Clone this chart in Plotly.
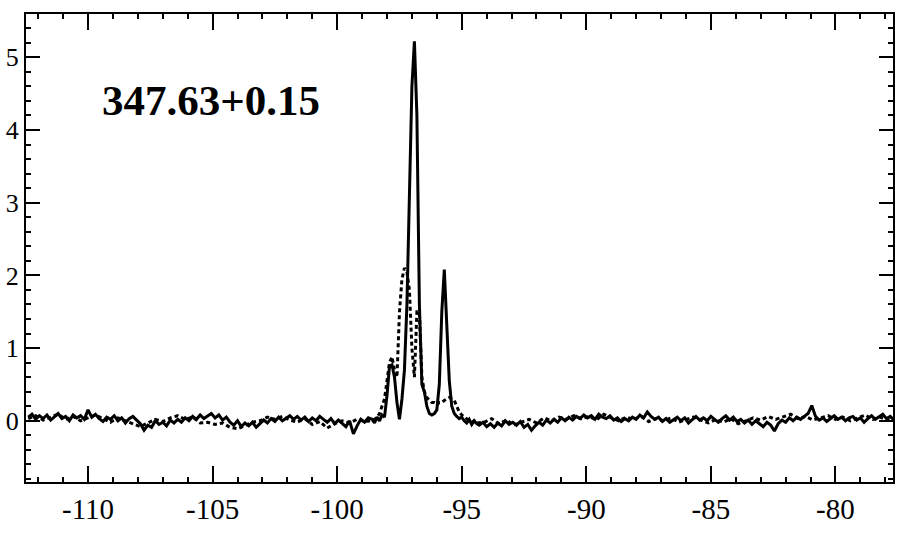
import numpy as np
import plotly.graph_objects as go

# ---------------- data ----------------
# Solid spectrum: left baseline channels (start, step) and intensities
solid_left_start = -112.4
solid_left_step = 0.15
solid_left = [
    0.05, 0.09, 0.02, 0.07, 0.03, 0.08, 0.01, 0.06, 0.10, 0.03,
    0.06, 0.00, 0.08, 0.04, 0.07, 0.02, 0.15, 0.05, 0.09, 0.03,
    -0.01, 0.05, 0.02, 0.07, 0.00, 0.04, -0.03, 0.03, 0.06, 0.01,
    -0.04, -0.13, -0.06, -0.09, 0.00, -0.05, -0.02, -0.07, 0.01, -0.03,
    0.02, -0.02, 0.04, 0.00, 0.06, 0.02, 0.08, 0.03, 0.07, 0.10,
    0.04, 0.08, 0.01, 0.05, -0.02, -0.06, 0.00, -0.08, -0.03, -0.07,
    -0.02, -0.09, -0.04, 0.01, -0.03, 0.03, -0.01, 0.05, 0.00, 0.04,
    0.07, 0.02, 0.06, 0.01, 0.05, -0.01, 0.04, 0.00, 0.06, 0.02,
    -0.02, 0.03, -0.04, 0.01, -0.03, -0.08, 0.00, -0.18, -0.07, 0.02,
    -0.02, 0.04,
]
# Line region (finer channels)
line_start = -98.6
line_step = 0.1
solid_line = [
    0.02, -0.03, 0.05, 0.00, 0.08, 0.05, 0.35, 0.75, 0.77, 0.60,
    0.25, 0.02, 0.30, 0.70, 1.60, 3.30, 4.60, 5.22, 4.20, 1.60,
    0.50, 0.40, 0.20, 0.10, 0.08, 0.10, 0.15, 0.50, 1.50, 2.08,
    1.30, 0.55, 0.20, 0.10, 0.06, 0.03, 0.05, 0.00, -0.03, 0.02,
    -0.05, 0.00, -0.04,
]
solid_right_start = -94.3
solid_right_step = 0.15
solid_right = [
    -0.06, -0.02, -0.08, -0.04, -0.09, -0.03, -0.07, 0.00, -0.05, -0.02,
    -0.06, -0.01, -0.09, -0.05, -0.13, -0.07, -0.02, -0.06, 0.01, -0.03,
    0.02, -0.02, 0.04, 0.00, 0.05, 0.01, 0.06, 0.03, 0.08, 0.04,
    0.07, 0.02, 0.09, 0.05, 0.03, 0.07, 0.01, 0.04, -0.01, 0.03,
    0.00, 0.05, 0.02, 0.08, 0.04, 0.12, 0.06, 0.02, 0.05, -0.01,
    0.03, -0.02, 0.02, 0.05, 0.00, 0.04, -0.03, 0.02, 0.06, 0.01,
    0.04, 0.00, 0.06, 0.02, -0.02, 0.03, 0.07, 0.01, 0.05, -0.01,
    0.02, -0.03, 0.01, -0.05, 0.00, -0.04, -0.08, -0.02, -0.06, -0.14,
    -0.04, 0.01, -0.02, 0.04, 0.00, 0.05, 0.02, 0.06, 0.10, 0.21,
    0.06, 0.01, 0.04, -0.01, 0.03, 0.07, 0.02, 0.05, 0.00, 0.04,
    0.06, 0.01, 0.04, -0.02, 0.03, 0.07, 0.02, 0.05, 0.09, 0.03,
    0.06, 0.01, 0.05,
]

# Dashed spectrum
dash_left_start = -112.4
dash_left_step = 0.3
dash_left = [
    0.03, 0.07, 0.01, 0.05, 0.09, 0.02, 0.06, 0.00, 0.04, 0.08,
    0.03, -0.02, 0.04, 0.00, -0.05, -0.08, -0.03, 0.02, -0.01, 0.04,
    0.07, 0.02, 0.05, -0.03, -0.02, -0.05, -0.03, -0.09, -0.11, -0.06,
    -0.02, 0.00, 0.05, 0.02, 0.06, 0.01, -0.02, 0.03, -0.05, -0.01,
    -0.10, -0.04, 0.00, -0.03, 0.02, -0.01,
]
dash_line = [
    0.00, 0.02, 0.05, 0.10, 0.20, 0.30, 0.55, 0.80, 0.88, 0.70,
    0.60, 1.50, 1.95, 2.10, 2.05, 1.80, 1.00, 0.60, 1.50, 1.50,
    0.60, 0.40, 0.32, 0.28, 0.25, 0.25, 0.22, 0.25, 0.25, 0.28,
    0.30, 0.32, 0.30, 0.28, 0.20, 0.12, 0.08, 0.05, 0.03, 0.00,
    -0.02, 0.00, -0.03,
]
dash_right_start = -94.1
dash_right_step = 0.3
dash_right = [
    -0.02, 0.03, -0.04, 0.01, -0.06, -0.02, 0.02, -0.03, 0.04, 0.00,
    0.05, 0.02, 0.07, 0.03, 0.06, 0.01, 0.09, 0.04, 0.00, 0.05,
    0.02, 0.06, -0.01, 0.03, 0.00, 0.04, -0.02, 0.02, 0.05, 0.01,
    -0.03, 0.02, -0.02, 0.03, -0.04, 0.00, 0.04, 0.01, 0.06, 0.02,
    0.05, 0.09, 0.03, 0.06, 0.01, 0.04, 0.07, 0.02, 0.05, 0.00,
    0.04, 0.08, 0.02, 0.05, 0.01, 0.03,
]

label_text = "347.63+0.15"
x_tick_vals = [-110, -105, -100, -95, -90, -85, -80]
x_tick_text = ["-110", "-105", "-100", "-95", "-90", "-85", "-80"]
y_tick_vals = [0, 1, 2, 3, 4, 5]
y_tick_text = ["0", "1", "2", "3", "4", "5"]


def channels(start, step, values):
    return [start + step * i for i in range(len(values))]


solid_x = (channels(solid_left_start, solid_left_step, solid_left)
           + channels(line_start, line_step, solid_line)
           + channels(solid_right_start, solid_right_step, solid_right))
solid_y = solid_left + solid_line + solid_right

dash_x = (channels(dash_left_start, dash_left_step, dash_left)
          + channels(line_start, line_step, dash_line)
          + channels(dash_right_start, dash_right_step, dash_right))
dash_y = dash_left + dash_line + dash_right

fig = go.Figure()
fig.add_trace(go.Scatter(x=dash_x, y=dash_y, mode="lines",
                         line=dict(color="black", width=3, dash="4px,3px"),
                         showlegend=False, hoverinfo="skip"))
fig.add_trace(go.Scatter(x=solid_x, y=solid_y, mode="lines",
                         line=dict(color="black", width=3),
                         showlegend=False, hoverinfo="skip"))

fig.add_annotation(x=-105.05, y=4.40, text=f"<b>{label_text}</b>",
                   showarrow=False, xanchor="center", yanchor="middle",
                   font=dict(family="Liberation Serif", size=43, color="black"))

axis_common = dict(showgrid=False, zeroline=False, showline=True,
                   linecolor="black", linewidth=2, mirror="allticks",
                   ticks="inside", tickcolor="black", tickwidth=2,
                   automargin=False)

fig.update_xaxes(range=[-112.49, -77.69], tickvals=x_tick_vals,
                 ticktext=x_tick_text, ticklen=16,
                 tickfont=dict(family="Liberation Serif", size=29, color="black"),
                 minor=dict(ticks="inside", dtick=1, tick0=-110, ticklen=5,
                            tickwidth=1.5, tickcolor="black"),
                 **axis_common)
fig.update_yaxes(range=[-0.842, 5.596], tickvals=y_tick_vals,
                 ticktext=y_tick_text, ticklen=14,
                 tickfont=dict(family="Liberation Serif", size=26, color="black"),
                 minor=dict(ticks="inside", dtick=0.2, tick0=0, ticklen=5,
                            tickwidth=1.5, tickcolor="black"),
                 **axis_common)

fig.update_layout(width=908, height=534,
                  margin=dict(l=26, r=15, t=14, b=52),
                  plot_bgcolor="white", paper_bgcolor="white")

fig.write_html("out.html", config={"displayModeBar": False},
               post_script="document.body.style.margin='0';")
